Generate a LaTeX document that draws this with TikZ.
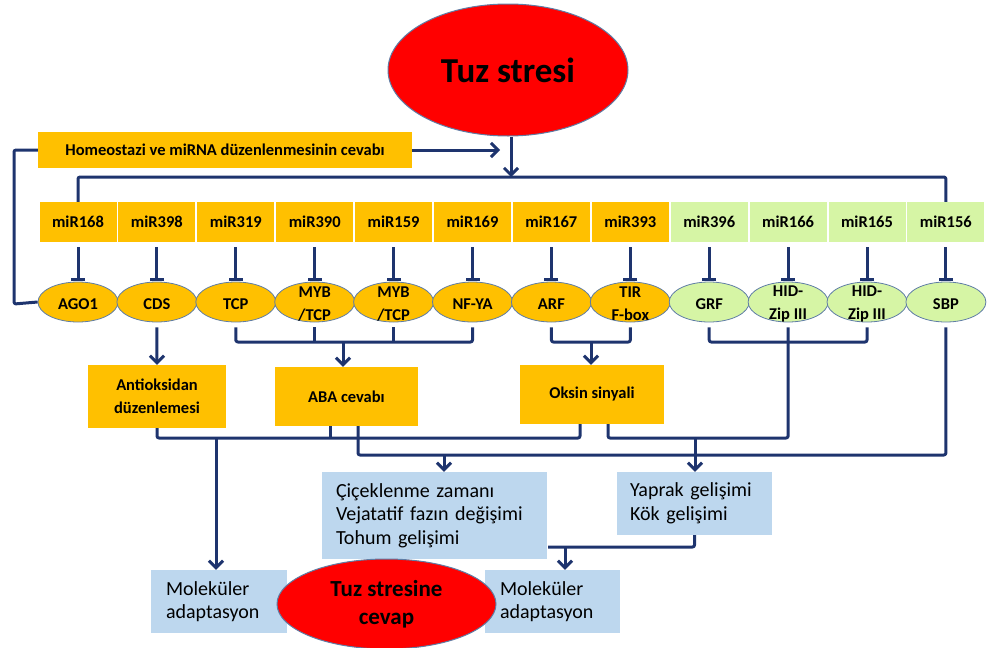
\documentclass[tikz,border=0pt]{standalone}
\usepackage{fontspec}
\setmainfont{Carlito}
\usetikzlibrary{shapes.geometric,arrows.meta}
\definecolor{orng}{RGB}{255,192,0}
\definecolor{lgrn}{RGB}{214,245,165}
\definecolor{lblu}{RGB}{189,215,238}
\definecolor{navy}{RGB}{30,52,110}
\definecolor{elline}{RGB}{95,125,165}
\begin{document}
\begin{tikzpicture}[x=1pt,y=-1pt,
  conn/.style={draw=navy,line width=3pt,line join=round,rounded corners=2pt},
  arr/.style={conn,-{Straight Barb[length=7pt,width=14pt]}},
  inh/.style={conn,-{Bar[width=14pt]},shorten <=5pt,shorten >=1pt},
  obox/.style={fill=orng,inner sep=0pt,align=center,font=\bfseries\fontsize{16.5}{23}\selectfont},
  mirbox/.style={inner sep=0pt,minimum width=77pt,minimum height=40pt,font=\bfseries\fontsize{16.5}{20}\selectfont},
  gene/.style={ellipse,draw=elline,line width=0.8pt,minimum width=80pt,minimum height=40pt,inner sep=0pt},
  genetext/.style={inner sep=0pt,align=center,font=\bfseries\fontsize{16.5}{23}\selectfont},
  bbox/.style={fill=lblu,inner ysep=0pt,align=left,font=\fontsize{20}{23.5}\selectfont},
  redell/.style={ellipse,fill=red,draw=elline,line width=1pt,inner sep=0pt,align=center}
]
\useasboundingbox (0,0) rectangle (991,648);

% top ellipse
\node[redell,minimum width=240pt,minimum height=132pt,font=\bfseries\fontsize{35}{40}\selectfont] (ts) at (508,70) {Tuz stresi};

% homeostasis box
\node[obox,minimum width=374pt,minimum height=36pt] (hom) at (225,150) {Homeostazi ve miRNA düzenlenmesinin cevabı};

% miRNA boxes and targets
\foreach \i/\mir/\gene/\fc in {1/miR168/AGO1/orng,2/miR398/CDS/orng,3/miR319/TCP/orng,4/miR390/{MYB\\/TCP}/orng,5/miR159/{MYB\\/TCP}/orng,6/miR169/NF-YA/orng,7/miR167/ARF/orng,8/miR393/{TIR\\F-box}/orng,9/miR396/GRF/lgrn,10/miR166/{HID-\\Zip III}/lgrn,11/miR165/{HID-\\Zip III}/lgrn,12/miR156/SBP/lgrn}{
  \pgfmathsetmacro\xx{78+78.9*(\i-1)}
  \node[mirbox,fill=\fc] (m\i) at (\xx,222) {\mir};
  \node[gene,fill=\fc] (e\i) at (\xx,302) {};
  \node[genetext] (g\i) at (\xx,304) {\gene};
  \draw[inh] (m\i) -- (e\i);
}

% process boxes
\node[obox,minimum width=138pt,minimum height=63pt] (anti) at (157,396.5) {Antioksidan\\düzenlemesi};
\node[obox,minimum width=143pt,minimum height=59pt] (aba) at (346.5,396.5) {ABA cevabı};
\node[obox,minimum width=144pt,minimum height=59pt] (oksin) at (592,394.5) {Oksin sinyali};

\node[bbox,minimum height=87pt,text width=197pt,inner xsep=14pt] (cic) at (434.5,515.5) {Çiçeklenme zamanı\\Vejatatif fazın değişimi\\Tohum gelişimi};
\node[bbox,minimum height=63pt,text width=129pt,inner xsep=13pt] (yap) at (694.5,503.5) {Yaprak gelişimi\\Kök gelişimi};
\node[bbox,minimum height=63pt,text width=106pt,inner xsep=15pt] (mol1) at (219,601.5) {Moleküler\\adaptasyon};
\node[bbox,minimum height=63pt,text width=105pt,inner xsep=15pt] (mol2) at (552.5,601.5) {Moleküler\\adaptasyon};
\node[redell,minimum width=219pt,minimum height=90pt,font=\bfseries\fontsize{23}{28}\selectfont] (cev) at (386.5,604) {Tuz stresine\\cevap};

% top connectors
\coordinate (busmid) at (511,177);
\draw[arr] (busmid |- ts.south) -- (busmid);
\draw[conn] (m1.north) -- (m1.north |- busmid) -- (m12.north |- busmid) -- (m12.north);
\coordinate (homtip) at (500,150);
\draw[arr] (hom.east) -- (homtip);
\coordinate (lp1) at (14,150);
\coordinate (lp2) at (14,304);
\draw[conn] (hom.west) -- (lp1) -- (lp2) -- (e1.west);

% from targets to processes
\draw[arr,shorten <=5pt] (e2.south) -- (anti.north);
\coordinate (abaJ) at (343,342);
\draw[conn,shorten <=5pt,shorten >=5pt] (e3.south) -- (e3.south |- abaJ) -- (e6.south |- abaJ) -- (e6.south);
\draw[conn,shorten <=5pt] (e4.south) -- (e4.south |- abaJ);
\draw[conn,shorten <=5pt] (e5.south) -- (e5.south |- abaJ);
\draw[arr] (abaJ) -- (abaJ |- aba.north);
\coordinate (oksJ) at (591,342);
\draw[conn,shorten <=5pt,shorten >=5pt] (e7.south) -- (e7.south |- oksJ) -- (e8.south |- oksJ) -- (e8.south);
\draw[arr] (oksJ) -- (oksJ |- oksin.north);
\draw[conn,shorten <=5pt,shorten >=5pt] (e9.south) -- (e9.south |- oksJ) -- (e11.south |- oksJ) -- (e11.south);

% lower connectors
\coordinate (L1a) at (580,438);
\draw[conn] (anti.south) -- (anti.south |- L1a) -- (L1a) -- (L1a |- oksin.south);
\coordinate (abaA) at (330,438);
\draw[conn] (abaA |- aba.south) -- (abaA);
\coordinate (molJ) at (216,438);
\draw[arr] (molJ) -- (molJ |- mol1.north);
\coordinate (abaB) at (358,455);
\draw[conn,shorten >=5pt] (abaB |- aba.south) -- (abaB) -- (e12.south |- abaB) -- (e12.south);
\coordinate (cicJ) at (444,455);
\draw[arr] (cicJ) -- (cicJ |- cic.north);
\coordinate (oksR) at (608,438);
\draw[conn,shorten >=5pt] (oksR |- oksin.south) -- (oksR) -- (e10.south |- oksR) -- (e10.south);
\coordinate (yapJ) at (695,438);
\draw[arr] (yapJ) -- (yapJ |- yap.north);
\coordinate (cicR) at (548,547);
\draw[conn] (yap.south) -- (yap.south |- cicR) -- (cicR);
\coordinate (molJ2) at (565,547);
\draw[arr] (molJ2) -- (molJ2 |- mol2.north);
\end{tikzpicture}
\end{document}
